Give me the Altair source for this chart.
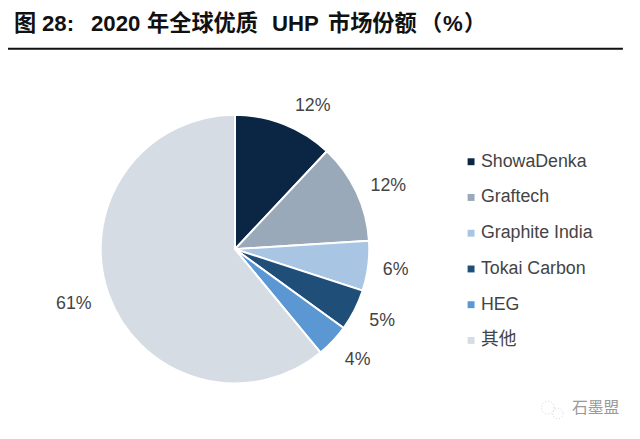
import altair as alt
import pandas as pd

names = ["ShowaDenka", "Graftech", "Graphite India", "Tokai Carbon", "HEG", "其他"]
shares = [12, 12, 6, 5, 4, 61]
labels = ["12%", "12%", "6%", "5%", "4%", "61%"]
colors = ["#0b2545", "#9aa9b9", "#a8c6e4", "#1f4e79", "#5b97d3", "#d5dce4"]
order = [0, 1, 2, 3, 4, 5]
title_parts = ["图", "28:", "2020", "年全球优质", "UHP", "市场份额", "（", "%", "）"]
title_starts = [14, 42, 91, 147, 272, 328, 420, 443, 464]
mark_text = "石墨盟"

# small nudges of the percentage labels away from their slice's mid angle
nudge_x = [18, 6, -1, 2, 4, -8]
nudge_y = [9, 6, 1, -2, -1, 0]

df = pd.DataFrame({"name": names, "share": shares, "label": labels, "order": order})
df["mid"] = df["share"].cumsum() - df["share"] / 2

CJK = "Liberation Sans, Noto Sans CJK SC"
OFF = 8
K = 0.9875
TWO_PI = 6.28318530718


def X(px):
    return (px - OFF) / K


def Y(px):
    return px - OFF


cx, cy = X(235), Y(249.5)

pie = alt.Chart(df).mark_arc(outerRadius=136, stroke="white", strokeWidth=2).encode(
    theta=alt.Theta("share:Q", stack=True, scale=alt.Scale(range=[0, TWO_PI])),
    order=alt.Order("order:Q"),
    color=alt.Color(
        "name:N",
        scale=alt.Scale(domain=names, range=colors),
        legend=alt.Legend(
            orient="none", legendX=468 - OFF, legendY=152 - OFF, title=None,
            symbolType="square", symbolSize=49, symbolStrokeWidth=0,
            labelFont=CJK, labelFontSize=18, labelColor="#444444",
            rowPadding=18.2, labelOffset=1, symbolOffset=0,
        ),
    ),
    x=alt.value(cx), y=alt.value(cy),
)

pct_layers = []
for i in range(len(names)):
    pct_layers.append(
        alt.Chart(df.iloc[[i]]).mark_text(
            radius=165, font=CJK, fontSize=18, color="#444444",
            dx=nudge_x[i], dy=nudge_y[i],
        ).encode(
            theta=alt.Theta("mid:Q", stack=None,
                            scale=alt.Scale(domain=[0, 100], range=[0, TWO_PI])),
            text="label:N",
            x=alt.value(cx), y=alt.value(cy),
        )
    )


def rule(y, w):
    return alt.Chart(pd.DataFrame({"a": [0]})).mark_rule(color="#111111", strokeWidth=w).encode(
        x=alt.value(X(0)), x2=alt.value(X(623)), y=alt.value(Y(y))
    )


title_layers = []
for part, start in zip(title_parts, title_starts):
    title_layers.append(
        alt.Chart(pd.DataFrame({"t": [part]})).mark_text(
            font=CJK, fontSize=22.5, fontWeight="bold", color="#111111",
            align="left", baseline="middle",
        ).encode(x=alt.value(X(start)), y=alt.value(Y(22)), text="t:N")
    )

wm = alt.Chart(pd.DataFrame({"t": [mark_text]})).mark_text(
    font="Noto Sans CJK SC", fontSize=16, color="#9a9a9a", align="left", baseline="middle"
).encode(x=alt.value(X(572)), y=alt.value(Y(410)), text="t:N")

icon_a = alt.Chart(pd.DataFrame({"a": [0]})).mark_point(
    shape="circle", size=170, color="#a8a8a8", strokeWidth=0.7, strokeDash=[1, 2], filled=False
).encode(x=alt.value(X(548)), y=alt.value(Y(410)))
icon_b = alt.Chart(pd.DataFrame({"a": [0]})).mark_point(
    shape="circle", size=110, color="#a8a8a8", strokeWidth=0.7, strokeDash=[1, 2], filled=False
).encode(x=alt.value(X(558)), y=alt.value(Y(416)))

chart = alt.layer(
    pie, *pct_layers, rule(2, 2.5), rule(46.5, 2), *title_layers, wm, icon_a, icon_b
).properties(
    width=632, height=423, padding=0, background="white",
    autosize=alt.AutoSizeParams(type="none"),
).configure_view(stroke=None)

chart.save("out.html", embed_options={"renderer": "svg", "actions": False})
